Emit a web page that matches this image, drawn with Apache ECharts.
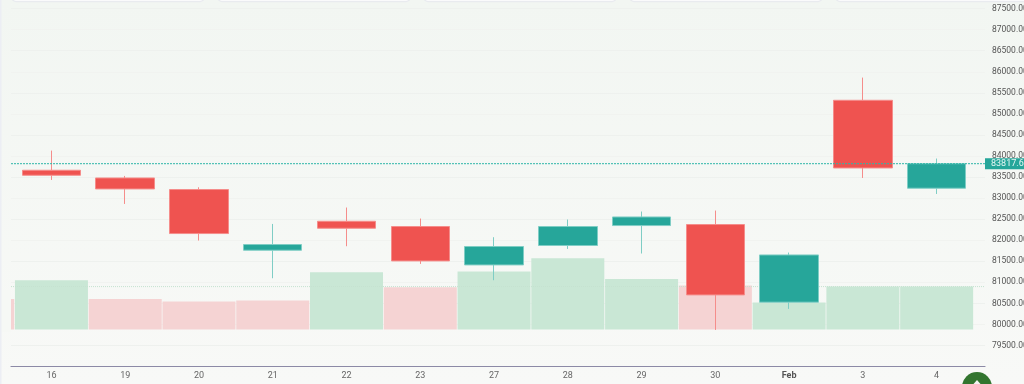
<!DOCTYPE html>
<html><head><meta charset="utf-8">
<script src="https://cdn.jsdelivr.net/npm/echarts@6/dist/echarts.min.js"></script>
<style>html,body{margin:0;padding:0;background:#f6f8f5;overflow:hidden}#c{width:1024px;height:384px}</style>
</head><body><div id="c"></div><script>
const categories = ['', '16','19','20','21','22','23','27','28','29','30','Feb','3','4',''];
// [open, close, low, high]
const candles = [
 ['-','-','-','-'],
 [83662,83543,83432,84129],
 [83479,83218,82862,83527],
 [83204,82159,81993,83258],
 [81763,81898,81098,82387],
 [82451,82285,81858,82777],
 [82326,81509,81438,82515],
 [81414,81851,81051,82072],
 [81875,82326,81794,82492],
 [82349,82553,81685,82682],
 [82373,80702,79871,82705],
 [80529,81651,80370,81708],
 [85323,83716,83479,85862],
 [83235,83817.65,83099,83940],
 ['-','-','-','-']
];
const volumes = [30.6,49.3,30.6,28,29,57.3,42.3,58,71.3,50.6,44,27,43,43,null];
const volumeUp = [0,1,0,0,0,1,0,1,1,1,0,1,1,1,0];
const lastPrice = [83817.65, 83817.65];
const lastVolume = [43, 43];

const RED='#ef5350', GREEN='#26a69a';
const chart = echarts.init(document.getElementById('c'),null,{renderer:'canvas'});
const hiddenY = (i,min,max)=>({gridIndex:i,type:'value',min,max,show:false,splitLine:{show:false}});
const gridTop=8.6, gridH=358;
const cards=[[12,192],[218,192],[424,192],[630,192],[836,200]];
chart.setOption({
 animation:false,
 backgroundColor:new echarts.graphic.LinearGradient(0,0,0,1,[{offset:0,color:'#f2f6f2'},{offset:1,color:'#f8f9f7'}]),
 grid:[
  {left:-59.2,width:1106.5,top:gridTop,height:gridH,outerBoundsMode:'none'},
  {left:11,width:974,top:gridTop,height:gridH,outerBoundsMode:'none'}
 ],
 xAxis:[
  {gridIndex:0,type:'category',data:categories.map(c=>c==='Feb'?{value:c,textStyle:{fontWeight:'bold',color:'#555'}}:c),
   axisLine:{show:false},axisTick:{show:false},splitLine:{show:false},
   axisLabel:{interval:0,color:'#666',fontSize:9,fontFamily:'Roboto',margin:5}},
  {gridIndex:1,type:'value',min:0,max:1,axisLine:{show:true,onZero:false,lineStyle:{color:'#8c8aa6',width:1.2}},
   axisTick:{show:false},axisLabel:{show:false},splitLine:{show:false}}
 ],
 yAxis:[
  hiddenY(0,79000,87500),
  hiddenY(0,-37,321),
  {gridIndex:1,type:'value',position:'right',min:79000,max:87500,interval:500,
   axisLine:{show:false},axisTick:{show:false},
   splitLine:{show:true,lineStyle:{color:['#f1f3f0','#eef1ee'],width:1}},
   axisLabel:{color:'#555',fontSize:8.5,fontFamily:'Roboto',margin:7,padding:[2,0,0,0],showMinLabel:false,formatter:v=>v.toFixed(2)}},
  hiddenY(1,-37,321)
 ],
 series:[
  {type:'bar',xAxisIndex:0,yAxisIndex:1,barWidth:73,z:2,silent:true,
   data:volumes.map((v,i)=>({value:v,itemStyle:{color:volumeUp[i]?'#c9e7d5':'#f5d3d3'}}))},
  {type:'line',xAxisIndex:1,yAxisIndex:3,z:3,symbol:'none',silent:true,
   data:[[0,lastVolume[0]],[1,lastVolume[1]]],
   lineStyle:{color:'#c5e2d0',width:1,type:'dotted'}},
  {type:'candlestick',xAxisIndex:0,yAxisIndex:0,barWidth:59,z:4,silent:true,data:candles,
   itemStyle:{color:GREEN,color0:RED,borderColor:'#7fcdc5',borderColor0:'#f58d8b',borderWidth:1}},
  {type:'line',xAxisIndex:1,yAxisIndex:2,z:5,symbol:'none',silent:true,
   data:[[0,lastPrice[0]],[1,lastPrice[1]]],
   lineStyle:{color:'#2fb5a8',width:1,type:[2,1]},
   endLabel:{show:true,formatter:()=>lastPrice[0].toFixed(2),backgroundColor:GREEN,color:'#e8f7f5',
     fontSize:9,fontFamily:'Roboto',padding:[1,8,1,6],distance:0,align:'left'}}
 ],
 graphic:[
  {type:'rect',z:100,shape:{x:0,y:290,width:11,height:42},style:{fill:'#f6f8f5'},silent:true},
  {type:'rect',z:101,shape:{x:0,y:0,width:1.5,height:384},style:{fill:'#eceef4'},silent:true},
  ...cards.map(c=>({type:'rect',z:101,silent:true,shape:{x:c[0],y:-10,width:c[1],height:11.5,r:4},style:{fill:'#ffffff',stroke:'#e9ebef',lineWidth:1.5}})),
  {type:'circle',z:102,silent:true,shape:{cx:977,cy:387,r:15},style:{fill:'#33752f'}},
  {type:'polygon',z:103,silent:true,shape:{points:[[977,380],[973.5,384],[980.5,384]]},style:{fill:'#f2f6f2'}}
 ]
});
</script></body></html>
